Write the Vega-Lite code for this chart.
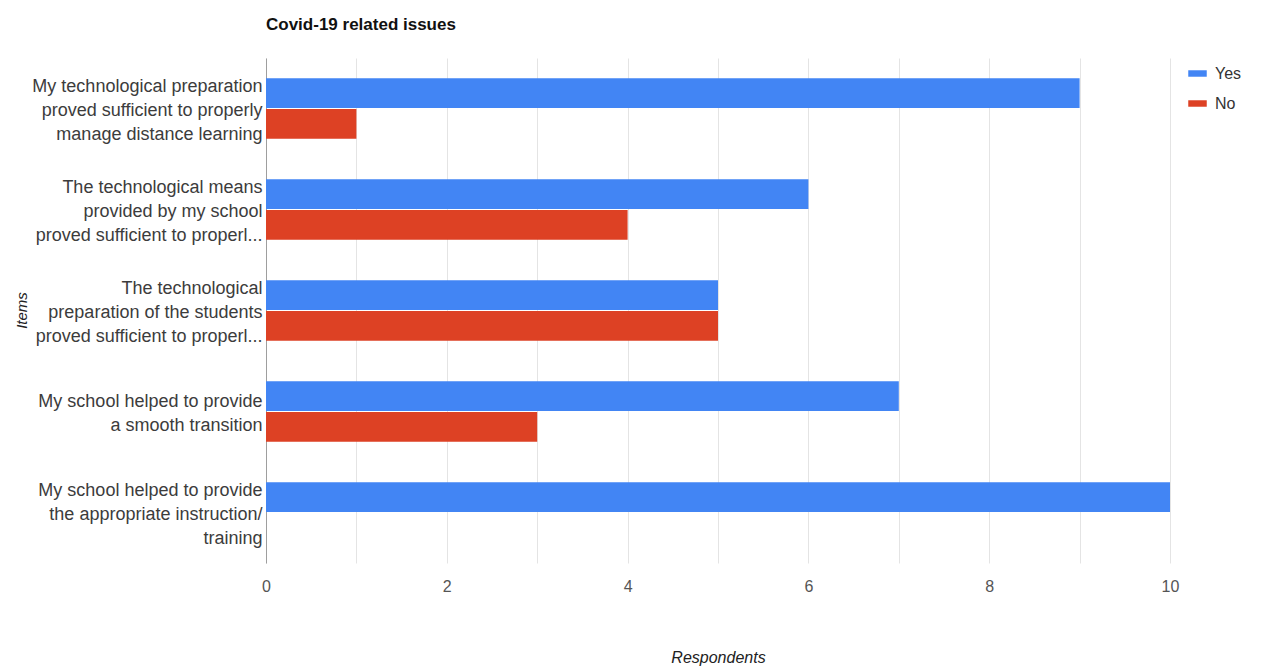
{
  "$schema": "https://vega.github.io/schema/vega-lite/v6.json",
  "autosize": {"type": "none"},
  "width": 904,
  "height": 505,
  "padding": {"left": 266, "top": 58, "right": 101, "bottom": 105},
  "background": "white",
  "config": {
    "font": "Liberation Sans",
    "view": {"stroke": null}
  },
  "title": {
    "text": "Covid-19 related issues",
    "anchor": "start",
    "frame": "group",
    "fontSize": 17,
    "fontWeight": "bold",
    "color": "#111111",
    "offset": 24
  },
  "data": {
    "values": [
      {"item": "My technological preparation\nproved sufficient to properly\nmanage distance learning", "answer": "Yes", "respondents": 9},
      {"item": "My technological preparation\nproved sufficient to properly\nmanage distance learning", "answer": "No", "respondents": 1},
      {"item": "The technological means\nprovided by my school\nproved sufficient to properl...", "answer": "Yes", "respondents": 6},
      {"item": "The technological means\nprovided by my school\nproved sufficient to properl...", "answer": "No", "respondents": 4},
      {"item": "The technological\npreparation of the students\nproved sufficient to properl...", "answer": "Yes", "respondents": 5},
      {"item": "The technological\npreparation of the students\nproved sufficient to properl...", "answer": "No", "respondents": 5},
      {"item": "My school helped to provide\na smooth transition", "answer": "Yes", "respondents": 7},
      {"item": "My school helped to provide\na smooth transition", "answer": "No", "respondents": 3},
      {"item": "My school helped to provide\nthe appropriate instruction/\ntraining", "answer": "Yes", "respondents": 10},
      {"item": "My school helped to provide\nthe appropriate instruction/\ntraining", "answer": "No", "respondents": 0}
    ]
  },
  "mark": {"type": "bar"},
  "encoding": {
    "y": {
      "field": "item",
      "type": "nominal",
      "sort": null,
      "scale": {"paddingInner": 0.4, "paddingOuter": 0.2},
      "axis": {
        "title": "Items",
        "titleFontStyle": "italic",
        "titleFontWeight": "normal",
        "titleFontSize": 15,
        "titleColor": "#222222",
        "titleX": -245,
        "titleY": 252,
        "titleAngle": -90,
        "titleBaseline": "middle",
        "titleAlign": "center",
        "labelExpr": "split(datum.label, '\\n')",
        "labelFontSize": 18,
        "labelColor": "#3c3c3c",
        "labelLineHeight": 24,
        "labelLimit": 400,
        "labelPadding": 4,
        "labelOffset": {
          "condition": {"test": "length(split(datum.label, '\\n')) == 2", "value": -10},
          "value": -22
        },
        "ticks": false,
        "domain": true,
        "domainColor": "#9e9e9e",
        "domainWidth": 1,
        "grid": false
      }
    },
    "yOffset": {
      "field": "answer",
      "type": "nominal",
      "sort": ["Yes", "No"],
      "scale": {"paddingInner": 0.03}
    },
    "x": {
      "field": "respondents",
      "type": "quantitative",
      "scale": {"domain": [0, 10], "nice": false},
      "axis": {
        "title": "Respondents",
        "titleFontStyle": "italic",
        "titleFontWeight": "normal",
        "titleFontSize": 16,
        "titleColor": "#222222",
        "titlePadding": 55,
        "values": [0, 1, 2, 3, 4, 5, 6, 7, 8, 9, 10],
        "labelExpr": "datum.value % 2 == 0 ? datum.label : ''",
        "labelFlush": false,
        "labelFontSize": 16,
        "labelColor": "#555555",
        "labelPadding": 15,
        "ticks": false,
        "domain": false,
        "grid": true,
        "gridColor": "#e4e4e4"
      }
    },
    "color": {
      "field": "answer",
      "type": "nominal",
      "sort": ["Yes", "No"],
      "scale": {"domain": ["Yes", "No"], "range": ["#4285F4", "#DD4124"]},
      "legend": {
        "title": null,
        "orient": "none",
        "legendX": 922,
        "legendY": 6,
        "symbolType": "M-1,-0.35L1,-0.35L1,0.35L-1,0.35Z",
        "symbolSize": 342,
        "symbolStrokeWidth": 0,
        "symbolOpacity": 1,
        "labelFontSize": 16,
        "labelColor": "#333333",
        "labelOffset": 8,
        "rowPadding": 12
      }
    }
  }
}
